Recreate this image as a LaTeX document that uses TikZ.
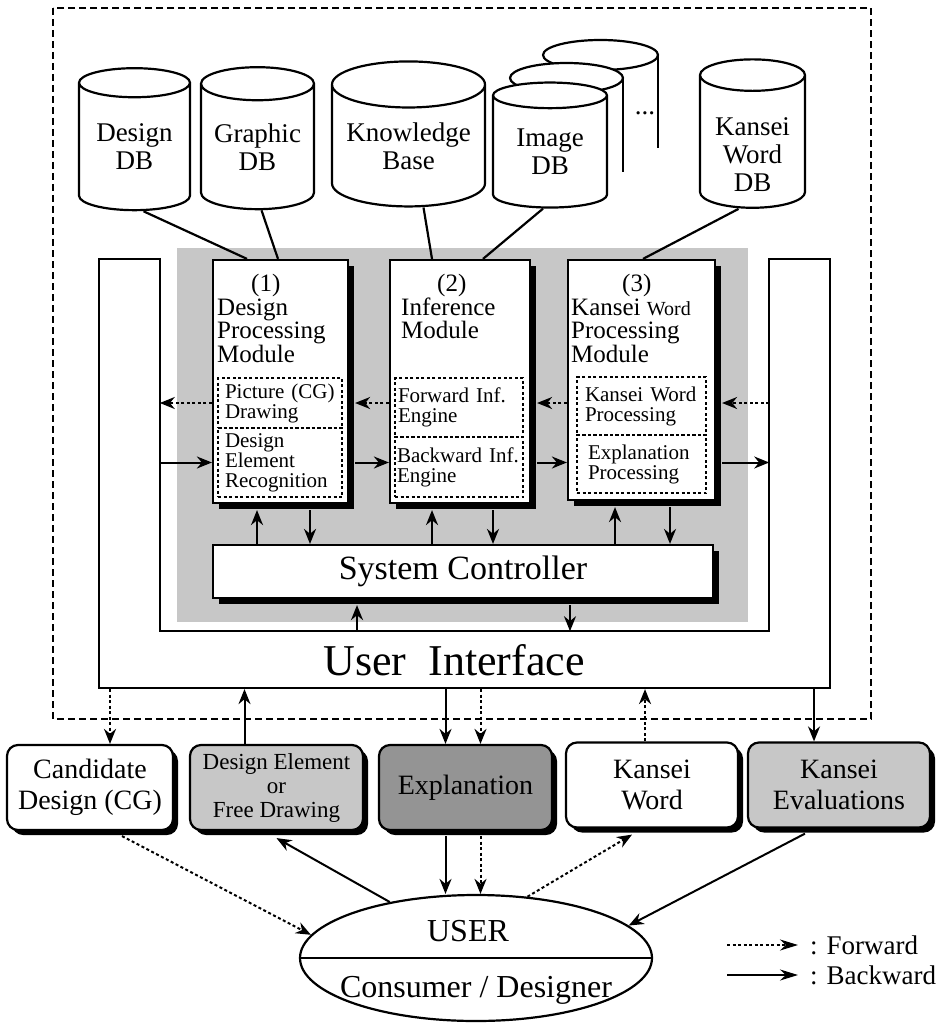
\documentclass[tikz,border=0pt]{standalone}
\usepackage{fontspec}
\setmainfont{Liberation Serif}
\usetikzlibrary{arrows.meta,positioning,calc,shapes.geometric,shadows}
\definecolor{panelgray}{gray}{0.78}
\definecolor{darkpanel}{gray}{0.58}
\tikzset{dbcyl/.style={cylinder,shape border rotate=90,shape aspect=0.38,draw,fill=white,line width=2.2pt,align=center,inner sep=0pt,font=\fontsize{27}{28}\selectfont},modbox/.style={draw,fill=white,line width=2.2pt,inner sep=0pt,drop shadow={shadow xshift=6pt,shadow yshift=-6pt,fill=black,opacity=1}},modtitle/.style={anchor=north west,align=left,inner sep=0pt,font=\fontsize{25}{23.5}\selectfont},subbox/.style={draw,dash pattern=on 3pt off 2.5pt,line width=1.4pt,align=left,inner sep=0pt,font=\fontsize{21}{20}\selectfont},iobox/.style={draw,rounded corners=11pt,line width=2.2pt,align=center,inner sep=0pt,minimum height=85pt,font=\fontsize{28}{31}\selectfont,drop shadow={shadow xshift=5pt,shadow yshift=-5pt,fill=black,opacity=1}},fwdarr/.style={-{Stealth[length=15pt,width=12pt]},line width=2pt,dash pattern=on 3pt off 2.5pt},bwdarr/.style={-{Stealth[length=15pt,width=12pt]},line width=2pt},dblink/.style={line width=2.2pt},legtxt/.style={anchor=west,inner sep=0pt,font=\fontsize{27}{28}\selectfont}}
\begin{document}
\begin{tikzpicture}[x=1pt,y=-1pt]
\useasboundingbox (0,0) rectangle (951,1024);
\draw[dash pattern=on 7pt off 4pt,line width=1.3pt] (53,8) rectangle (871,719);
\node[draw,fill=white,line width=2.2pt,minimum width=731pt,minimum height=429pt] (ui) at (464.5,473.5) {};
\node[fill=white,inner sep=0pt,minimum width=609pt,minimum height=380pt] (uiin) at (464.5,441) {};
\draw[line width=2.2pt] (uiin.south west |- ui.north) -- (uiin.south west) -- (uiin.south east) -- (uiin.south east |- ui.north);
\fill[panelgray] (177,248) rectangle (748,622);
\node[font=\fontsize{44}{50}\selectfont] (uitxt) at (454,660) {User\hspace{0.5em}Interface};
\node[dbcyl,minimum width=111pt,minimum height=142pt] (ddb) at (134.5,147) {Design\\DB};
\node[dbcyl,minimum width=113pt,minimum height=142pt] (gdb) at (257.5,147) {Graphic\\DB};
\node[dbcyl,minimum width=153pt,minimum height=145pt,shape aspect=0.37] (kb) at (408.5,146) {Knowledge\\Base};
\fill[white] (543,55) rectangle (658,148);
\draw[line width=2.2pt,fill=white] (600.5,55) ellipse [x radius=57.5,y radius=15];
\draw[line width=2.2pt] (658,55) -- (658,148);
\fill[white] (510,78) rectangle (623,172);
\draw[line width=2.2pt,fill=white] (566.5,78) ellipse [x radius=56.5,y radius=15];
\draw[line width=2.2pt] (623,78) -- (623,172);
\node[dbcyl,minimum width=114pt,minimum height=125pt] (idb) at (550,152) {Image\\DB};
\node[inner sep=0pt,font=\fontsize{27}{28}\selectfont] (dots) at (645,113) {...};
\node[dbcyl,minimum width=105pt,minimum height=142pt,shape aspect=0.42] (kwdb) at (752.5,142) {\rule{0pt}{44pt}Kansei\\Word\\DB};
\node[modbox,minimum width=135pt,minimum height=243pt] (m1) at (280.5,381.5) {};
\node[modtitle] (m1t) at (217,274) {\hspace*{34pt}(1)\\Design\\Processing\\Module};
\node[subbox,minimum width=124pt,minimum height=50pt,text width=110pt] (m1a) at (280,403) {Picture (CG)\\Drawing};
\node[subbox,minimum width=124pt,minimum height=69pt,text width=110pt] (m1b) at (280,462.5) {Design\\Element\\Recognition};
\node[modbox,minimum width=140pt,minimum height=243pt] (m2) at (460,381.5) {};
\node[modtitle] (m2t) at (401,274) {\hspace*{36pt}(2)\\Inference\\Module};
\node[subbox,minimum width=128pt,minimum height=59pt,text width=122pt] (m2a) at (459,407.5) {Forward Inf.\\Engine};
\node[subbox,minimum width=128pt,minimum height=60pt,text width=124pt] (m2b) at (459,467) {Backward Inf.\\Engine};
\node[modbox,minimum width=147pt,minimum height=240pt] (m3) at (641.5,380) {};
\node[modtitle] (m3t) at (571,274) {\hspace*{51pt}(3)\\Kansei {\fontsize{20}{20}\selectfont Word}\\Processing\\Module};
\node[subbox,minimum width=129pt,minimum height=58pt,text width=113pt] (m3a) at (641.5,406) {Kansei Word\\Processing};
\node[subbox,minimum width=129pt,minimum height=58pt,text width=107pt] (m3b) at (641.5,464) {Explanation\\Processing};
\node[modbox,minimum width=500pt,minimum height=53pt,font=\fontsize{34}{40}\selectfont] (sc) at (463,571.5) {System Controller};
\draw[dblink] ([xshift=9pt]ddb.south) -- ([xshift=-33.5pt]m1.north);
\draw[dblink] ([xshift=4pt]gdb.south) -- ([xshift=-2.5pt]m1.north);
\draw[dblink] ([xshift=15pt]kb.south) -- ([xshift=-28pt]m2.north);
\draw[dblink] ([xshift=-7pt]idb.south) -- ([xshift=23pt]m2.north);
\draw[dblink] ([xshift=-14pt]kwdb.south) -- ([xshift=1.5pt]m3.north);
\draw[fwdarr] (m1.west |- m1a.west) -- (uiin.west |- m1a.west);
\draw[fwdarr] (m2.west |- m1a.west) -- ([xshift=6pt]m1.east |- m1a.west);
\draw[fwdarr] (m3.west |- m1a.west) -- ([xshift=6pt]m2.east |- m1a.west);
\draw[fwdarr] (uiin.east |- m1a.west) -- ([xshift=6pt]m3.east |- m1a.west);
\draw[bwdarr] (uiin.west |- m1b.west) -- (m1.west |- m1b.west);
\draw[bwdarr] ([xshift=6pt]m1.east |- m1b.west) -- (m2.west |- m1b.west);
\draw[bwdarr] ([xshift=6pt]m2.east |- m1b.west) -- (m3.west |- m1b.west);
\draw[bwdarr] ([xshift=6pt]m3.east |- m1b.west) -- (uiin.east |- m1b.west);
\draw[bwdarr] ([xshift=-23.5pt]m1.south |- sc.north) -- ([xshift=-23.5pt,yshift=-6pt]m1.south);
\draw[bwdarr] ([xshift=29.5pt,yshift=-6pt]m1.south) -- ([xshift=29.5pt]m1.south |- sc.north);
\draw[bwdarr] ([xshift=-28pt]m2.south |- sc.north) -- ([xshift=-28pt,yshift=-6pt]m2.south);
\draw[bwdarr] ([xshift=33pt,yshift=-6pt]m2.south) -- ([xshift=33pt]m2.south |- sc.north);
\draw[bwdarr] ([xshift=-26.5pt]m3.south |- sc.north) -- ([xshift=-26.5pt,yshift=-6pt]m3.south);
\draw[bwdarr] ([xshift=28.5pt,yshift=-6pt]m3.south) -- ([xshift=28.5pt]m3.south |- sc.north);
\draw[bwdarr] ([xshift=-106pt]sc.south |- uiin.south) -- ([xshift=-106pt,yshift=-6pt]sc.south);
\draw[bwdarr] ([xshift=107pt,yshift=-6pt]sc.south) -- ([xshift=107pt]sc.south |- uiin.south);
\node[iobox,minimum width=166pt,fill=white] (cand) at (90,787.5) {Candidate\\Design (CG)};
\node[iobox,minimum width=173pt,fill=panelgray,font=\fontsize{23}{24}\selectfont] (delem) at (276.5,787.5) {Design Element\\or\\Free Drawing};
\node[iobox,minimum width=173pt,fill=darkpanel] (expl) at (465.5,787.5) {Explanation};
\node[iobox,minimum width=172pt,fill=white] (kword) at (652,785) {Kansei\\Word};
\node[iobox,minimum width=182pt,fill=panelgray] (keval) at (839,785) {Kansei\\Evaluations};
\draw[fwdarr] ([xshift=20pt]cand.north |- ui.south) -- ([xshift=20pt]cand.north);
\draw[bwdarr] ([xshift=-32pt]delem.north) -- ([xshift=-32pt]delem.north |- ui.south);
\draw[bwdarr] ([xshift=-20pt]expl.north |- ui.south) -- ([xshift=-20pt]expl.north);
\draw[fwdarr] ([xshift=15pt]expl.north |- ui.south) -- ([xshift=15pt]expl.north);
\draw[fwdarr] ([xshift=-7pt]kword.north) -- ([xshift=-7pt]kword.north |- ui.south);
\draw[bwdarr] ([xshift=-25pt]keval.north |- ui.south) -- ([xshift=-25pt]keval.north);
\node[draw,ellipse,line width=2.2pt,fill=white,inner sep=0pt,minimum width=352pt,minimum height=126pt] (user) at (476,958) {};
\draw[line width=2.2pt] (user.west) -- (user.east);
\node[font=\fontsize{32}{36}\selectfont] (usr) at (468,931) {USER};
\node[font=\fontsize{32}{36}\selectfont] (cons) at (476,990) {Consumer / Designer};
\draw[fwdarr] ([xshift=32pt,yshift=-5pt]cand.south) -- (user.172);
\draw[bwdarr] (user.147) -- ([yshift=-7pt]delem.south);
\draw[bwdarr] ([xshift=-20pt,yshift=-5pt]expl.south) -- ([xshift=-20pt]expl.south |- user.north);
\draw[fwdarr] ([xshift=15pt,yshift=-5pt]expl.south) -- ([xshift=15pt]expl.south |- user.north);
\draw[fwdarr] (user.50) -- ([xshift=-20pt,yshift=-6pt]kword.south);
\draw[bwdarr] ([xshift=-34pt,yshift=-5pt]keval.south) -- (user.12);
\node[legtxt] (fwdtxt) at (810,945) {: Forward};
\coordinate (fwdtail) at (727,945);
\draw[fwdarr,-{Stealth[length=18pt,width=11pt]}] (fwdtail) -- ([xshift=-12pt]fwdtxt.west);
\node[legtxt] (bwdtxt) at (810,975) {: Backward};
\coordinate (bwdtail) at (727,975);
\draw[bwdarr,-{Stealth[length=18pt,width=11pt]}] (bwdtail) -- ([xshift=-12pt]bwdtxt.west);
\end{tikzpicture}
\end{document}
